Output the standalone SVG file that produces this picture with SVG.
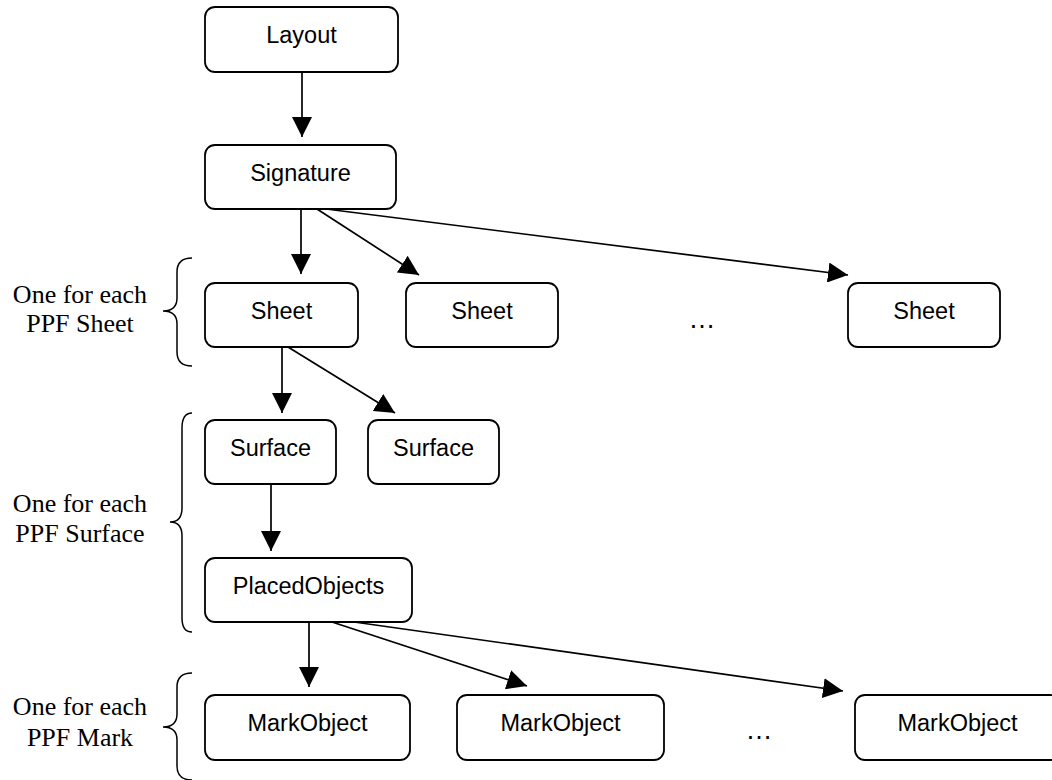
<svg xmlns="http://www.w3.org/2000/svg" width="1052" height="780" viewBox="0 0 1052 780">
<style>
.box{fill:#fff;stroke:#000;stroke-width:1.8}
.t{font-family:"Liberation Sans",Arial,sans-serif;font-size:23.5px;text-anchor:middle;fill:#000}
.el{font-family:"Liberation Sans",Arial,sans-serif;font-size:27px;text-anchor:middle;fill:#000}
.lbl{font-family:"Liberation Serif","Times New Roman",serif;font-size:26px;text-anchor:middle;fill:#000}
.c{stroke:#000;stroke-width:1.7;fill:none;marker-end:url(#ah)}
.br{stroke:#000;stroke-width:1.5;fill:none}
</style>
<defs>
<marker id="ah" markerUnits="userSpaceOnUse" markerWidth="20" markerHeight="20" refX="20" refY="10" orient="auto">
<path d="M0,0 L20,10 L0,20 z" fill="#000"/>
</marker>
</defs>
<rect width="1052" height="780" fill="#fff"/>
<g id="connectors">
<line class="c" x1="302" y1="72" x2="302" y2="137"/>
<line class="c" x1="301" y1="209" x2="301" y2="274"/>
<line class="c" x1="317" y1="209" x2="419" y2="275"/>
<line class="c" x1="326" y1="209" x2="848" y2="275"/>
<line class="c" x1="282" y1="347" x2="282" y2="413"/>
<line class="c" x1="288" y1="347" x2="395" y2="413"/>
<line class="c" x1="271" y1="484" x2="271" y2="551"/>
<line class="c" x1="309" y1="622" x2="309" y2="687"/>
<line class="c" x1="332" y1="622" x2="527" y2="686"/>
<line class="c" x1="354" y1="622" x2="843" y2="691"/>
</g>
<g id="layout"><rect class="box" x="205" y="7" width="193" height="65" rx="10"/><text class="t" x="301.5" y="43">Layout</text></g>
<g id="signature"><rect class="box" x="205" y="145" width="191" height="64" rx="10"/><text class="t" x="300.5" y="180.5">Signature</text></g>
<g id="sheet1"><rect class="box" x="205" y="283" width="153" height="64" rx="10"/><text class="t" x="281.5" y="318.5">Sheet</text></g>
<g id="sheet2"><rect class="box" x="406" y="283" width="152" height="64" rx="10"/><text class="t" x="482" y="318.5">Sheet</text></g>
<g id="sheet3"><rect class="box" x="848" y="283" width="152" height="64" rx="10"/><text class="t" x="924" y="318.5">Sheet</text></g>
<g id="surface1"><rect class="box" x="205" y="420" width="131" height="64" rx="10"/><text class="t" x="270.5" y="455.5">Surface</text></g>
<g id="surface2"><rect class="box" x="368" y="420" width="131" height="64" rx="10"/><text class="t" x="433.5" y="455.5">Surface</text></g>
<g id="placedobjects"><rect class="box" x="205" y="558" width="207" height="64" rx="10"/><text class="t" x="308.5" y="593.5">PlacedObjects</text></g>
<g id="markobject1"><rect class="box" x="205" y="695" width="205" height="65" rx="10"/><text class="t" x="307.5" y="731">MarkObject</text></g>
<g id="markobject2"><rect class="box" x="457" y="695" width="207" height="65" rx="10"/><text class="t" x="560.5" y="731">MarkObject</text></g>
<g id="markobject3"><rect class="box" x="855" y="695" width="205" height="65" rx="10"/><text class="t" x="957.5" y="731">MarkObject</text></g>
<g id="ellipses">
<text class="el" x="702" y="328">…</text>
<text class="el" x="759" y="739">…</text>
</g>
<g id="braces">
<path class="br" d="M192,258 Q177,258 177,272 L177,298 Q177,311 163,311 Q177,311 177,324 L177,352 Q177,366 192,366"/>
<path class="br" d="M192,413 Q182,413 182,428 L182,508 Q182,522 170,522 Q182,522 182,536 L182,618 Q182,632 192,632"/>
<path class="br" d="M192,673 Q177,673 177,687 L177,714 Q177,727 163,727 Q177,727 177,740 L177,766 Q177,780 192,780"/>
</g>
<g id="labels">
<text class="lbl" x="80" y="303">One for each</text>
<text class="lbl" x="80" y="332">PPF Sheet</text>
<text class="lbl" x="80" y="512">One for each</text>
<text class="lbl" x="80" y="542">PPF Surface</text>
<text class="lbl" x="80" y="715">One for each</text>
<text class="lbl" x="80" y="746">PPF Mark</text>
</g>
</svg>
